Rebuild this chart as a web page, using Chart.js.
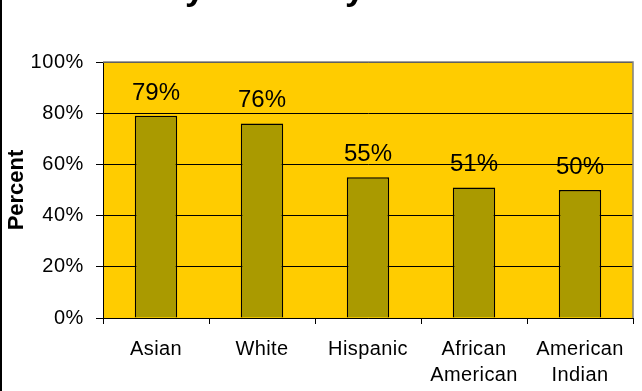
<!DOCTYPE html>
<html><head><meta charset="utf-8">
<script src="https://cdn.jsdelivr.net/npm/chart.js@4"></script>
<style>html,body{margin:0;padding:0;background:#fff;overflow:hidden}#wrap{width:642px;height:391px;position:relative}</style>
</head><body><div id="wrap"><canvas id="c" width="642" height="391"></canvas></div>
<script>
const titleLines = ["Graduation Rates", "by Ethnicity"];
const categories = ["Asian", "White", "Hispanic", ["African", "American"], ["American", "Indian"]];
const values = [79, 76, 55, 51, 50];
const yTicks = [0, 20, 40, 60, 80, 100];
const yTitle = "Percent";

const FONT = "'Liberation Sans', Arial, sans-serif";

function spaced(scale, method, ls) {
  if (scale['_w_' + method]) return;
  const orig = scale[method].bind(scale);
  scale[method] = function (...args) {
    const ctx = scale.ctx;
    ctx.save();
    ctx.letterSpacing = ls;
    orig(...args);
    ctx.restore();
  };
  scale['_w_' + method] = true;
}

const bgPlugin = {
  id: 'bg',
  beforeDraw(chart) {
    const {ctx, chartArea: a} = chart;
    ctx.save();
    ctx.fillStyle = '#ffffff';
    ctx.fillRect(0, 0, chart.width, chart.height);
    ctx.fillStyle = '#FFCC00';
    ctx.fillRect(a.left, a.top, a.right - a.left, a.bottom - a.top);
    ctx.restore();
  },
  afterDraw(chart) {
    const {ctx, chartArea: a} = chart;
    ctx.save();
    ctx.strokeStyle = '#808080';
    ctx.lineWidth = 1.5;
    ctx.beginPath();
    ctx.moveTo(a.left, a.top);
    ctx.lineTo(a.right, a.top);
    ctx.lineTo(a.right, a.bottom);
    ctx.stroke();
    ctx.fillStyle = '#000';
    ctx.fillRect(0, 0, 2, chart.height);
    const meta = chart.getDatasetMeta(0);
    ctx.font = '24px ' + FONT;
    ctx.textAlign = 'center';
    ctx.textBaseline = 'alphabetic';
    ctx.fillStyle = '#000';
    meta.data.forEach((el, i) => {
      ctx.fillText(values[i] + '%', el.x, el.y - 16);
    });
    ctx.font = 'bold 100px ' + FONT;
    const w100 = ctx.measureText('y Ethnicit').width;
    const size = 160 * 100 / w100;
    ctx.font = 'bold ' + size.toFixed(2) + 'px ' + FONT;
    const last = titleLines[titleLines.length - 1];
    const x0 = 185 - ctx.measureText('b').width;
    const cx = x0 + ctx.measureText(last).width / 2;
    ctx.textAlign = 'center';
    titleLines.forEach((t, i) => {
      ctx.fillText(t, cx, 0 - (titleLines.length - 1 - i) * size * 1.2);
    });
    ctx.restore();
  }
};

new Chart(document.getElementById('c'), {
  type: 'bar',
  data: {
    labels: categories,
    datasets: [{
      data: values,
      backgroundColor: '#AA9A00',
      borderColor: '#000',
      borderWidth: 1.5,
      categoryPercentage: 1,
      barPercentage: 0.4
    }]
  },
  options: {
    responsive: false,
    animation: false,
    devicePixelRatio: 1,
    layout: {padding: {left: 0, right: 9, top: 62, bottom: 0}},
    plugins: {legend: {display: false}, tooltip: {enabled: false}, title: {display: false}},
    scales: {
      x: {
        grid: {offset: true, drawOnChartArea: false, color: '#000', tickLength: 6, lineWidth: 1},
        border: {color: '#000', width: 1},
        ticks: {color: '#000', font: {family: FONT, size: 20, lineHeight: 1.3}, padding: 12, maxRotation: 0, autoSkip: false},
        afterFit(s) { s.height = 73; spaced(s, 'drawLabels', '0.4px'); }
      },
      y: {
        min: 0, max: 100,
        afterBuildTicks(s) { s.ticks = yTicks.map(v => ({value: v})); },
        grid: {color: '#000', lineWidth: 1, tickLength: 7},
        border: {color: '#000', width: 1},
        ticks: {color: '#000', font: {family: FONT, size: 20}, padding: 12, callback: v => v + '%'},
        title: {display: true, text: yTitle, color: '#000', font: {family: FONT, size: 22, weight: 'bold'}, padding: {top: 4, bottom: 0}},
        afterFit(s) { s.width = 103; spaced(s, 'drawLabels', '0.6px'); }
      }
    }
  },
  plugins: [bgPlugin]
});
</script>
</body></html>
